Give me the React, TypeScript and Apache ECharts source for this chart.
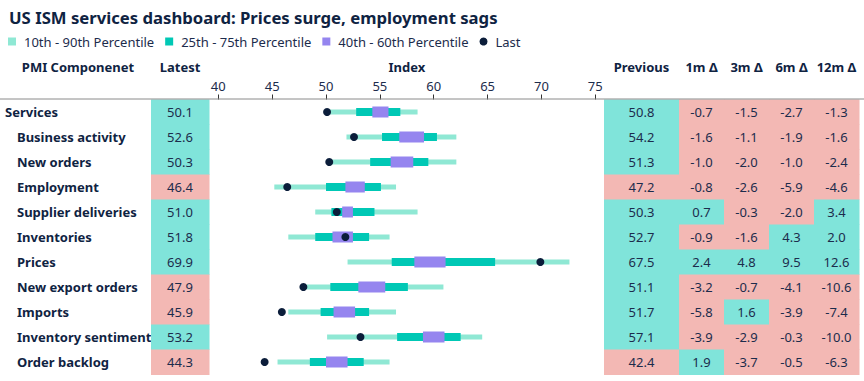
import React, { useEffect, useRef } from "react";
import * as echarts from "echarts";

const components = [
  "Services",
  "Business activity",
  "New orders",
  "Employment",
  "Supplier deliveries",
  "Inventories",
  "Prices",
  "New export orders",
  "Imports",
  "Inventory sentiment",
  "Order backlog",
];
const p10 = [50.3, 51.9, 50.4, 45.2, 49.0, 46.5, 52.0, 48.2, 46.5, 50.1, 45.5];
const p90 = [58.5, 62.1, 62.1, 56.5, 58.5, 55.9, 72.6, 60.9, 56.5, 64.5, 55.9];
const p25 = [52.8, 55.2, 54.1, 50.0, 50.5, 49.0, 56.1, 50.4, 49.5, 56.6, 48.5];
const p75 = [56.9, 60.3, 59.5, 55.1, 54.5, 54.0, 65.7, 57.6, 54.0, 62.5, 53.5];
const p40 = [54.3, 56.8, 56.0, 51.8, 51.5, 50.6, 58.2, 53.0, 50.7, 59.0, 50.0];
const p60 = [55.8, 59.1, 58.1, 53.6, 52.5, 52.5, 61.1, 55.5, 52.7, 61.0, 52.0];
const latest = [50.1, 52.6, 50.3, 46.4, 51.0, 51.8, 69.9, 47.9, 45.9, 53.2, 44.3];
const previous = [50.8, 54.2, 51.3, 47.2, 50.3, 52.7, 67.5, 51.1, 51.7, 57.1, 42.4];
const d1m = [-0.7, -1.6, -1.0, -0.8, 0.7, -0.9, 2.4, -3.2, -5.8, -3.9, 1.9];
const d3m = [-1.5, -1.1, -2.0, -2.6, -0.3, -1.6, 4.8, -0.7, 1.6, -2.9, -3.7];
const d6m = [-2.7, -1.9, -1.0, -5.9, -2.0, 4.3, 9.5, -4.1, -3.9, -0.3, -0.5];
const d12m = [-1.3, -1.6, -2.4, -4.6, 3.4, 2.0, 12.6, -10.6, -7.4, -10.0, -6.3];
const deltaCols = ["1m Δ", "3m Δ", "6m Δ", "12m Δ"];
const indexMin = 40;
const indexMax = 75;
const indexStep = 5;

const FONT = '"Noto Sans", sans-serif';
const NAVY = "#0f2342";
const TEXT = "#1c2c4c";
const UP = "#80e4da";
const DOWN = "#f3b8b4";
const C10 = "#8fe8d4";
const C25 = "#00c8b5";
const C40 = "#9585ef";
const DOT = "#0b1d3a";

const cellRender = (params: any, api: any) => {
  const c = api.coord([api.value(0), api.value(1)]);
  const s = api.size([1, 1]);
  const v = api.value(2);
  const kind = api.value(3);
  const good = kind === 0 ? v >= 50 : v >= 0;
  return {
    type: "group",
    children: [
      {
        type: "rect",
        shape: { x: c[0] - s[0] / 2, y: c[1] - s[1] / 2, width: s[0] + 0.5, height: s[1] + 0.5 },
        style: { fill: good ? UP : DOWN },
      },
      {
        type: "text",
        style: {
          text: v.toFixed(1),
          x: c[0],
          y: c[1],
          align: "center",
          verticalAlign: "middle",
          fill: TEXT,
          fontSize: 13,
          fontFamily: FONT,
        },
      },
    ],
  };
};

const bandRender = (h: number) => (params: any, api: any) => {
  const a = api.coord([api.value(0), api.value(2)]);
  const b = api.coord([api.value(1), api.value(2)]);
  return {
    type: "rect",
    shape: { x: a[0], y: a[1] - h / 2, width: b[0] - a[0], height: h },
    style: { fill: api.visual("color") },
  };
};

export default function App() {
  const ref = useRef<HTMLDivElement>(null);
  useEffect(() => {
    if (!ref.current) return;
    const chart = echarts.init(ref.current, null, { renderer: "svg" });
    const top = 99.5;
    const height = 275;
    const headerAxis = (data: string[], gridIndex: number) => ({
      type: "category",
      gridIndex,
      data,
      position: "top",
      axisLine: { show: false },
      axisTick: { show: false },
      axisLabel: {
        margin: 26,
        interval: 0,
        fontFamily: FONT,
        fontSize: 13,
        fontWeight: "bold",
        color: NAVY,
      },
    });
    const rowAxis = (gridIndex: number, showLabels: boolean) => ({
      type: "category",
      gridIndex,
      data: components,
      inverse: true,
      axisLine: { show: false },
      axisTick: { show: false },
      splitLine: { show: false },
      axisLabel: showLabels
        ? {
            show: true,
            interval: 0,
            align: "left",
            margin: 146,
            formatter: (v: string, i: number) => (i === 0 ? `{a|${v}}` : `{b|${v}}`),
            rich: {
              a: { fontFamily: FONT, fontSize: 13, fontWeight: "bold", color: NAVY },
              b: { fontFamily: FONT, fontSize: 13, fontWeight: "bold", color: NAVY, padding: [0, 0, 0, 12] },
            },
          }
        : { show: false },
    });
    const band = (name: string, lo: number[], hi: number[], color: string, h: number) => ({
      name,
      type: "custom",
      xAxisIndex: 1,
      yAxisIndex: 1,
      itemStyle: { color },
      renderItem: bandRender(h),
      encode: { x: [0, 1], y: 2 },
      data: lo.map((v, i) => [v, hi[i], i]),
    });
    const deltaData: number[][] = [];
    [d1m, d3m, d6m, d12m].forEach((arr, c) => arr.forEach((v, r) => deltaData.push([c, r, v, 1])));
    chart.setOption({
      animation: false,
      title: {
        text: "US ISM services dashboard: Prices surge, employment sags",
        left: 4,
        top: 4,
        textStyle: { fontFamily: FONT, fontSize: 16.7, fontWeight: "bold", color: NAVY },
      },
      legend: {
        left: 3,
        top: 30,
        itemWidth: 8,
        itemHeight: 8,
        itemGap: 11,
        textStyle: { fontFamily: FONT, fontSize: 13, color: TEXT, padding: [0, 0, 0, 3] },
        data: [
          { name: "10th - 90th Percentile", icon: "rect" },
          { name: "25th - 75th Percentile", icon: "rect" },
          { name: "40th - 60th Percentile", icon: "rect" },
          { name: "Last", icon: "circle" },
        ],
      },
      graphic: [
        {
          type: "text",
          x: 78,
          y: 67,
          style: {
            text: "PMI Componenet",
            align: "center",
            verticalAlign: "middle",
            fontFamily: FONT,
            fontSize: 13,
            fontWeight: "bold",
            fill: NAVY,
          },
        },
        {
          type: "line",
          shape: { x1: 0, y1: 99, x2: 864, y2: 99 },
          style: { stroke: "#8a8a8a", lineWidth: 1 },
          z: 10,
        },
      ],
      grid: [
        { left: 151, width: 58, top, height },
        { left: 218.3, width: 377, top, height },
        { left: 604, width: 75, top, height },
        { left: 679, width: 180, top, height },
      ],
      xAxis: [
        headerAxis(["Latest"], 0),
        {
          type: "value",
          gridIndex: 1,
          position: "top",
          min: indexMin,
          max: indexMax,
          interval: indexStep,
          name: "Index",
          nameLocation: "middle",
          nameGap: 26,
          nameTextStyle: { fontFamily: FONT, fontSize: 13, fontWeight: "bold", color: NAVY },
          axisLine: { show: false },
          axisTick: { show: true, length: 5, lineStyle: { color: "#333" } },
          splitLine: { show: false },
          axisLabel: { margin: 7, fontFamily: FONT, fontSize: 13, color: TEXT },
        },
        headerAxis(["Previous"], 2),
        headerAxis(deltaCols, 3),
      ],
      yAxis: [rowAxis(0, true), rowAxis(1, false), rowAxis(2, false), rowAxis(3, false)],
      series: [
        {
          type: "custom",
          xAxisIndex: 0,
          yAxisIndex: 0,
          renderItem: cellRender,
          data: latest.map((v, i) => [0, i, v, 0]),
        },
        {
          type: "custom",
          xAxisIndex: 2,
          yAxisIndex: 2,
          renderItem: cellRender,
          data: previous.map((v, i) => [0, i, v, 0]),
        },
        {
          type: "custom",
          xAxisIndex: 3,
          yAxisIndex: 3,
          renderItem: cellRender,
          data: deltaData,
        },
        band("10th - 90th Percentile", p10, p90, C10, 5),
        band("25th - 75th Percentile", p25, p75, C25, 8),
        band("40th - 60th Percentile", p40, p60, C40, 11),
        {
          name: "Last",
          type: "scatter",
          xAxisIndex: 1,
          yAxisIndex: 1,
          symbolSize: 8,
          itemStyle: { color: DOT, opacity: 1 },
          data: latest.map((v, i) => [v, i]),
        },
      ],
    });
    return () => chart.dispose();
  }, []);
  return <div ref={ref} style={{ position: "absolute", left: 0, top: 0, width: 864, height: 381 }} />;
}
